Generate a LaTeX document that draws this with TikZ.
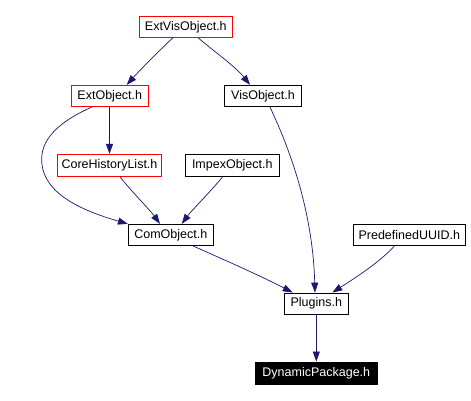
\documentclass[tikz,border=0pt]{standalone}
\usepackage{fontspec}
\setmainfont{Liberation Sans}
\usetikzlibrary{arrows.meta,calc}
\definecolor{edgecol}{HTML}{191970}
\tikzset{
  hbox/.style={draw=black,line width=0.8pt,fill=white,inner sep=0pt,minimum height=21.4pt,font=\fontsize{12.5}{14}\selectfont,text=black},
  redbox/.style={hbox,draw=red},
  mainbox/.style={hbox,fill=black,text=white,draw=black},
  dep/.style={draw=edgecol,line width=0.7pt,-{Triangle[length=10pt,width=7pt]},edgecol}
}
\begin{document}
\begin{tikzpicture}[x=1pt,y=-1pt]
\useasboundingbox (0,0) rectangle (471,401);
\node[redbox,minimum width=93pt] (evo) at (185.8,26.8) {ExtVisObject.h};
\node[redbox,minimum width=77pt] (eo) at (109.8,96) {ExtObject.h};
\node[hbox,minimum width=77.4pt] (vo) at (263,96) {VisObject.h};
\node[redbox,minimum width=104.4pt,minimum height=22pt] (chl) at (109.5,165.3) {CoreHistoryList.h};
\node[hbox,minimum width=94pt,minimum height=22pt] (io) at (232.3,165.3) {ImpexObject.h};
\node[hbox,minimum width=85pt] (co) at (170.8,235) {ComObject.h};
\node[hbox,minimum width=112pt] (pu) at (409.3,235) {PredefinedUUID.h};
\node[hbox,minimum width=64.7pt] (pl) at (316.3,303.7) {Plugins.h};
\node[mainbox,minimum width=122.7pt,minimum height=22.7pt] (dp) at (316.3,373.3) {DynamicPackage.h};

\draw[dep] ([xshift=-13.1pt]evo.south) .. controls (160,50) and (140,70) .. ([xshift=16.9pt]eo.north);
\draw[dep] ([xshift=12.5pt]evo.south) .. controls (212,50) and (235,66) .. ([xshift=-13pt]vo.north);
\draw[dep] ([xshift=-0.3pt]eo.south) -- (chl.north);
\draw[dep] ([xshift=-18.1pt]eo.south) .. controls (45,128) and (38,150) .. (43,170) .. controls (50,195) and (80,210) .. (co.north west);
\draw[dep] ([xshift=10.5pt]chl.south) .. controls (130,190) and (150,210) .. ([xshift=-10.8pt]co.north);
\draw[dep] ([xshift=-9.6pt]io.south) .. controls (212,190) and (192,210) .. ([xshift=10.9pt]co.north);
\draw[dep] ([xshift=7pt]vo.south) .. controls (295,160) and (313,220) .. ([xshift=-1.3pt]pl.north);
\draw[dep] ([xshift=22.5pt]co.south) .. controls (225,260) and (265,278) .. ([xshift=-23.6pt]pl.north);
\draw[dep] ([xshift=-15pt]pu.south) .. controls (380,262) and (355,278) .. ([xshift=16pt]pl.north);
\draw[dep] (pl.south) -- (dp.north);
\end{tikzpicture}
\end{document}
